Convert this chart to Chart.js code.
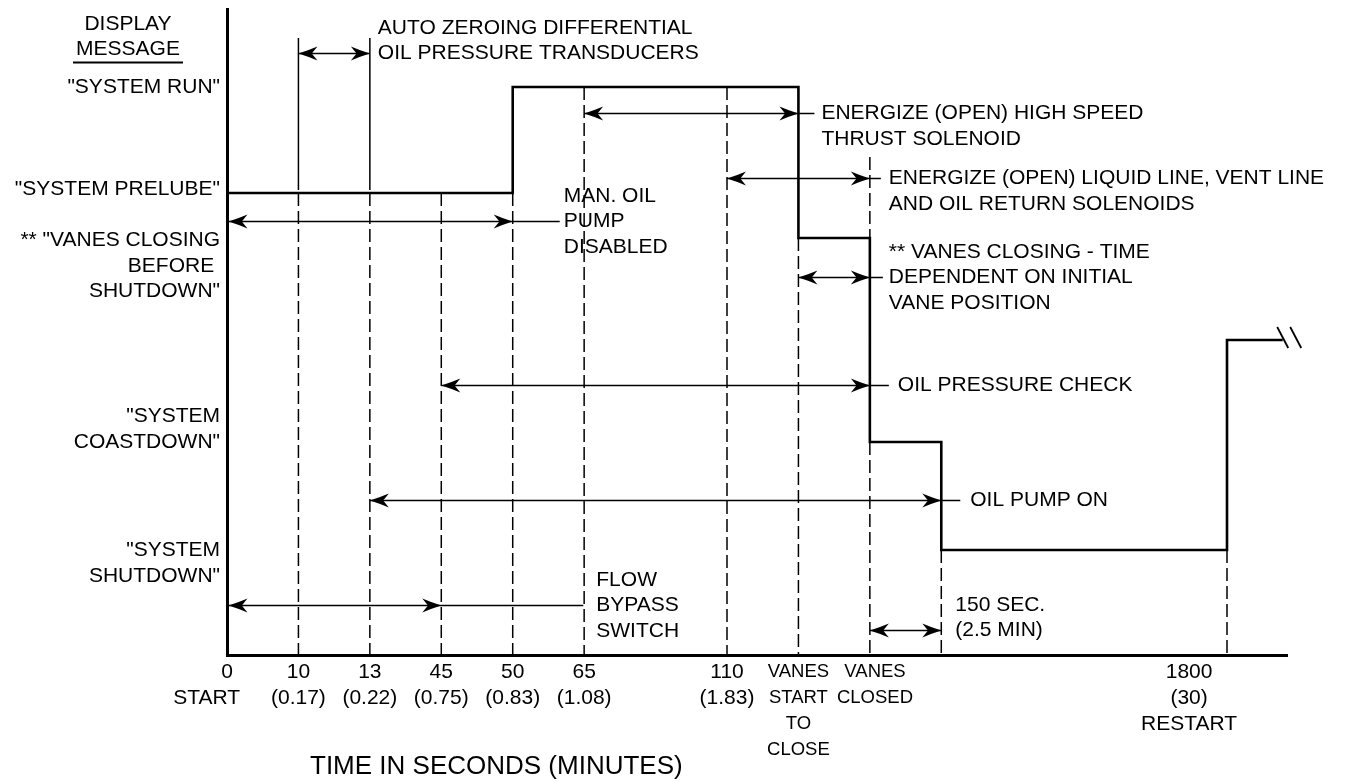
<!DOCTYPE html>
<html>
<head>
<meta charset="utf-8">
<script src="https://cdn.jsdelivr.net/npm/chart.js@4.4.1/dist/chart.umd.min.js"></script>
<style>
html,body{margin:0;padding:0;background:#fff;}
#wrap{width:1349px;height:782px;}
</style>
</head>
<body>
<div id="wrap"><canvas id="c" width="1349" height="782"></canvas></div>
<script>
// ---------- DATA ----------
// x positions are the slots of the (non-linear) time axis; y values are display-message levels
const stepTimes  = [0, 4, 8, 9, 10, 14, 14.78];
const stepLevels = [462, 568, 417, 213, 105, 315, 315];

const xTickPos = [0, 1, 2, 3, 4, 5, 7, 8, 9, 14];
const xTickLabels = [
  ["0", "START       "],
  ["10", "(0.17)"],
  ["13", "(0.22)"],
  ["45", "(0.75)"],
  ["50", "(0.83)"],
  ["65", "(1.08)"],
  ["110", "(1.83)"],
  ["VANES", "START", "TO", "CLOSE"],
  ["  VANES", "  CLOSED"],
  ["1800             ", "(30)             ", "RESTART             "]
];

const yTickPos = [568, 466, 389, 225.5, 92];
const yTickLabels = [
  ['"SYSTEM RUN"'],
  ['"SYSTEM PRELUBE"'],
  ['** "VANES CLOSING', 'BEFORE ', 'SHUTDOWN"'],
  ['"SYSTEM', 'COASTDOWN"'],
  ['"SYSTEM', 'SHUTDOWN"']
];

// dashed guide lines under each event
const guideX      = [1, 2, 3, 4, 5, 7, 8, 9, 9, 10, 14];
const guideTop    = [462, 462, 462, 462, 568, 568, 417, 213, 498, 105, 105];
const guideBottom = [0, 0, 0, 0, 0, 0, 0, 0, 417, 0, 0];

// solid brackets for the auto-zeroing interval
const bracketX      = [1, 2];
const bracketTop    = [617, 617];
const bracketBottom = [465, 465];

// double-headed interval arrows
const arrowFrom  = [1, 5, 7, 0, 8, 3, 2, 0, 9];
const arrowTo    = [2, 8, 9, 4, 9, 9, 10, 3, 10];
const arrowLevel = [602, 542, 477, 434, 378, 270, 155, 50, 25];
const arrowText  = [
  ["AUTO ZEROING DIFFERENTIAL", "OIL PRESSURE TRANSDUCERS"],
  ["ENERGIZE (OPEN) HIGH SPEED", "THRUST SOLENOID"],
  ["ENERGIZE (OPEN) LIQUID LINE, VENT LINE", "AND OIL RETURN SOLENOIDS"],
  ["MAN. OIL", "PUMP", "DISABLED"],
  ["** VANES CLOSING - TIME", "DEPENDENT ON INITIAL", "VANE POSITION"],
  ["OIL PRESSURE CHECK"],
  ["OIL PUMP ON"],
  ["FLOW", "BYPASS", "SWITCH"],
  ["150 SEC.", "(2.5 MIN)"]
];

// ---------- STYLE / LAYOUT ----------
const FAM = '"Liberation Sans", Arial, Helvetica, sans-serif';
const FONT = '21px ' + FAM;
const LH = 25.4;
// tail: extra leader length past arrow end; gap: space before text; anchor: which text line sits on the arrow
const arrowStyle = [
  {tail: 0,   gap: 8,  anchor: 1},
  {tail: 16,  gap: 7,  anchor: 0},
  {tail: 11,  gap: 8,  anchor: 0},
  {tail: 47,  gap: 4,  anchor: 1},
  {tail: 13,  gap: 6,  anchor: 1},
  {tail: 19,  gap: 9,  anchor: 0},
  {tail: 19,  gap: 10, anchor: 0},
  {tail: 142, gap: 13, anchor: 1},
  {tail: 0,   gap: 14, anchor: 1}
];

function segs(xs, tops, bottoms) {
  const out = [];
  xs.forEach((gx, i) => {
    out.push({x: gx, y: tops[i]}, {x: gx, y: bottoms[i]}, {x: gx, y: null});
  });
  return out;
}

function head(ctx, xt, yt, dir) {
  const L = 19, W = 7;
  ctx.beginPath();
  ctx.moveTo(xt, yt);
  ctx.quadraticCurveTo(xt - dir * L * 0.5, yt - W * 0.42, xt - dir * L, yt - W);
  ctx.lineTo(xt - dir * L * 0.7, yt);
  ctx.lineTo(xt - dir * L, yt + W);
  ctx.quadraticCurveTo(xt - dir * L * 0.5, yt + W * 0.42, xt, yt);
  ctx.closePath();
  ctx.fill();
}

const annot = {
  id: 'annot',
  afterDatasetsDraw(chart) {
    const {ctx, scales: {x, y}} = chart;
    ctx.save();
    ctx.strokeStyle = '#000';
    ctx.fillStyle = '#000';
    ctx.lineWidth = 1.5;
    ctx.font = FONT;
    ctx.textBaseline = 'middle';
    ctx.textAlign = 'left';
    for (let i = 0; i < arrowFrom.length; i++) {
      const st = arrowStyle[i];
      const x1 = x.getPixelForValue(arrowFrom[i]) + (arrowFrom[i] === 0 ? 1.5 : 0);
      const x2 = x.getPixelForValue(arrowTo[i]);
      const py = Math.round(y.getPixelForValue(arrowLevel[i])) + 0.5;
      ctx.beginPath();
      ctx.moveTo(x1, py);
      ctx.lineTo(x2 + st.tail, py);
      ctx.stroke();
      head(ctx, x1, py, -1);
      head(ctx, x2, py, 1);
      const tx = x2 + st.tail + st.gap;
      arrowText[i].forEach((t, j) => ctx.fillText(t, tx, py + (j - st.anchor) * LH));
    }

    // break marks at the end of the restart level
    const n = stepTimes.length - 1;
    const ex = x.getPixelForValue(stepTimes[n]);
    const ey = y.getPixelForValue(stepLevels[n]);
    ctx.lineWidth = 1.8;
    [0, 13].forEach(dx => {
      ctx.beginPath();
      ctx.moveTo(ex + dx - 5.5, ey - 13);
      ctx.lineTo(ex + dx + 5.5, ey + 8);
      ctx.stroke();
    });

    // header
    ctx.textAlign = 'center';
    ctx.fillText('DISPLAY', 128, 24);
    ctx.fillText('MESSAGE', 128, 49);
    ctx.lineWidth = 2;
    ctx.beginPath();
    ctx.moveTo(73, 62.5);
    ctx.lineTo(183, 62.5);
    ctx.stroke();

    // axis title
    ctx.font = '26px ' + FAM;
    ctx.textAlign = 'left';
    ctx.fillText('TIME IN SECONDS (MINUTES)', 310, 767);
    ctx.restore();
  }
};

new Chart(document.getElementById('c'), {
  type: 'line',
  data: {
    datasets: [
      {
        data: stepTimes.map((t, i) => ({x: t, y: stepLevels[i]})),
        stepped: 'before',
        borderColor: '#000',
        borderWidth: 2.6,
        pointRadius: 0,
        fill: false,
        borderJoinStyle: 'miter',
        clip: false
      },
      {
        data: segs(guideX, guideTop, guideBottom),
        borderColor: '#000',
        borderWidth: 1.5,
        borderDash: [13, 5],
        pointRadius: 0,
        spanGaps: false,
        fill: false
      },
      {
        data: segs(bracketX, bracketTop, bracketBottom),
        borderColor: '#000',
        borderWidth: 1.5,
        pointRadius: 0,
        spanGaps: false,
        fill: false
      }
    ]
  },
  options: {
    responsive: false,
    animation: false,
    devicePixelRatio: 1,
    events: [],
    layout: {padding: {top: 9, right: 62, left: 0, bottom: 0}},
    plugins: {legend: {display: false}, tooltip: {enabled: false}},
    scales: {
      x: {
        type: 'linear', min: 0, max: 14.84,
        grid: {display: false, drawTicks: false, tickLength: 0},
        border: {display: true, width: 3, color: '#000'},
        afterBuildTicks: s => { s.ticks = xTickPos.map(v => ({value: v})); },
        afterFit: s => { s.height = 127; s.paddingLeft = 0; s.paddingRight = 0; },
        ticks: {
          autoSkip: false, maxRotation: 0, minRotation: 0, padding: 4, color: '#000',
          font: ctx => (ctx.index === 7 || ctx.index === 8)
            ? {family: FAM, size: 18.5, lineHeight: 1.41}
            : {family: FAM, size: 21, lineHeight: 1.24},
          callback: (v, i) => xTickLabels[i]
        }
      },
      y: {
        type: 'linear', min: 0, max: 646,
        grid: {display: false, drawTicks: false, tickLength: 0},
        border: {display: true, width: 3, color: '#000'},
        afterBuildTicks: s => { s.ticks = yTickPos.map(v => ({value: v})); },
        afterFit: s => { s.width = 227; s.paddingTop = 0; s.paddingBottom = 0; },
        ticks: {
          autoSkip: false, padding: 7, color: '#000',
          font: {family: FAM, size: 21, lineHeight: 1.22},
          callback: (v, i) => yTickLabels[i]
        }
      }
    }
  },
  plugins: [annot]
});
</script>
</body>
</html>
